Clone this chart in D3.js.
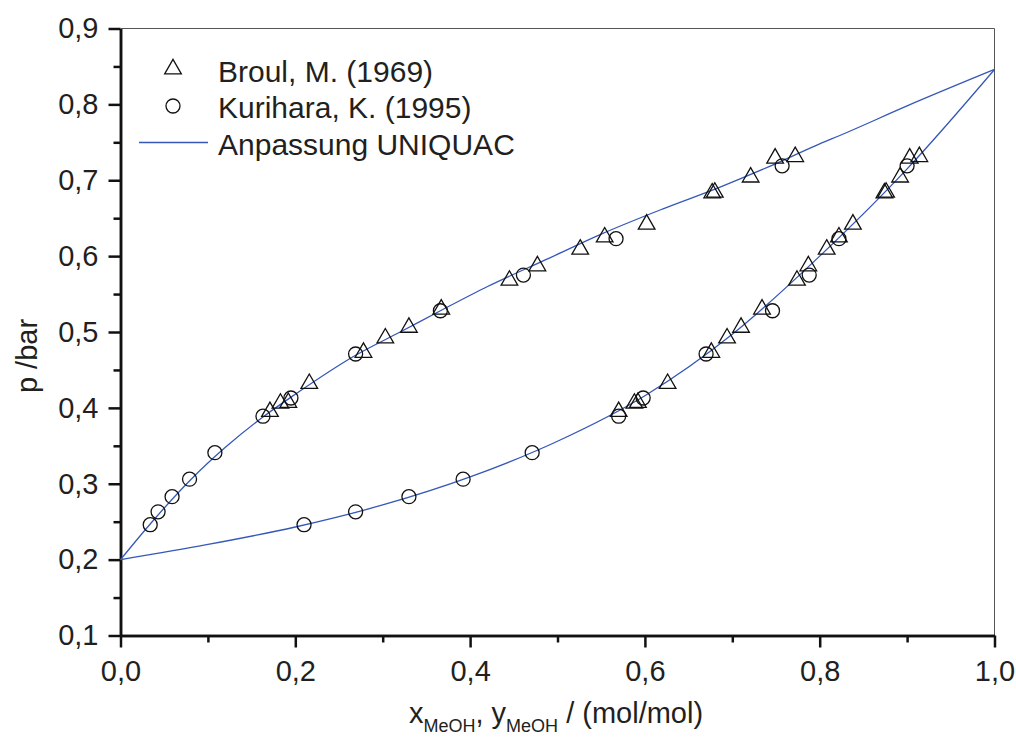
<!DOCTYPE html>
<html>
<head>
<meta charset="utf-8">
<script src="https://cdn.jsdelivr.net/npm/d3@7"></script>
<style>
  body { margin: 0; background: #fff; }
  text { font-family: "Liberation Sans", Arial, sans-serif; fill: #231f20; }
</style>
</head>
<body>
<div class="chart"></div>
<script>
// Broul, M. (1969) - same pressure for liquid (x) and vapour (y)
var broulP = [0.395, 0.406, 0.407, 0.432, 0.473, 0.492, 0.506, 0.530, 0.568, 0.587, 0.609, 0.625, 0.642, 0.683, 0.684, 0.704, 0.729, 0.731];
var broulX = [0.171, 0.183, 0.192, 0.216, 0.278, 0.303, 0.330, 0.367, 0.445, 0.477, 0.526, 0.554, 0.602, 0.677, 0.680, 0.721, 0.749, 0.772];
var broulY = [0.570, 0.588, 0.592, 0.626, 0.676, 0.694, 0.710, 0.734, 0.774, 0.787, 0.808, 0.822, 0.838, 0.874, 0.876, 0.892, 0.903, 0.914];

// Kurihara, K. (1995)
var kuriP = [0.246, 0.263, 0.283, 0.306, 0.341, 0.389, 0.413, 0.471, 0.528, 0.575, 0.623, 0.719];
var kuriX = [0.034, 0.043, 0.059, 0.079, 0.108, 0.163, 0.195, 0.269, 0.366, 0.461, 0.567, 0.757];
var kuriY = [0.210, 0.269, 0.330, 0.392, 0.471, 0.570, 0.598, 0.670, 0.746, 0.788, 0.822, 0.900];

// UNIQUAC fit, bubble line (x) and dew line (y)
var bubbleX = [0, 0.034, 0.08, 0.12, 0.163, 0.2, 0.27, 0.32, 0.366, 0.42, 0.49, 0.55, 0.62, 0.686, 0.75, 0.8, 0.823, 0.9, 1.0];
var bubbleP = [0.200, 0.247, 0.305, 0.348, 0.388, 0.418, 0.470, 0.500, 0.528, 0.560, 0.597, 0.629, 0.662, 0.691, 0.722, 0.748, 0.759, 0.798, 0.846];
var dewY = [0, 0.1, 0.2, 0.3, 0.4, 0.5, 0.6, 0.7, 0.8, 0.9, 1.0];
var dewP = [0.200, 0.220, 0.243, 0.272, 0.309, 0.356, 0.416, 0.497, 0.600, 0.715, 0.846];

var xTicks = [0, 0.2, 0.4, 0.6, 0.8, 1.0];
var xMinor = [0.1, 0.3, 0.5, 0.7, 0.9];
var yTicks = [0.1, 0.2, 0.3, 0.4, 0.5, 0.6, 0.7, 0.8, 0.9];
var yMinor = [0.15, 0.25, 0.35, 0.45, 0.55, 0.65, 0.75, 0.85];

var width = 1016, height = 744;
var plotLeft = 120.5, plotRight = 994.5, plotTop = 28.5, plotBottom = 635.5;
var lineColor = "#3558b8";
var fontSize = 29;

var svg = d3.select('.chart').append('svg').attr('width', width).attr('height', height);

var x = d3.scaleLinear().domain([0, 1]).range([plotLeft, plotRight]);
var y = d3.scaleLinear().domain([0.1, 0.9]).range([plotBottom, plotTop]);

var de = d3.formatLocale({decimal: ",", thousands: ".", grouping: [3], currency: ["", ""]});
var fmt = de.format(".1f");

// frame (top + right, thin)
svg.append("line").attr("x1", plotLeft).attr("x2", plotRight).attr("y1", plotTop).attr("y2", plotTop)
  .attr("stroke", "#555").attr("stroke-width", 1);
svg.append("line").attr("x1", plotRight).attr("x2", plotRight).attr("y1", plotTop).attr("y2", plotBottom)
  .attr("stroke", "#555").attr("stroke-width", 1);

// axes
svg.append("g").attr("transform", "translate(0," + plotBottom + ")")
  .call(d3.axisBottom(x).tickValues(xTicks).tickFormat(fmt).tickSize(12).tickSizeOuter(0).tickPadding(13));
svg.append("g").attr("transform", "translate(0," + plotBottom + ")")
  .call(d3.axisBottom(x).tickValues(xMinor).tickFormat("").tickSize(7).tickSizeOuter(0));
svg.append("g").attr("transform", "translate(" + plotLeft + ",0)")
  .call(d3.axisLeft(y).tickValues(yTicks).tickFormat(fmt).tickSize(12).tickSizeOuter(0).tickPadding(10));
svg.append("g").attr("transform", "translate(" + plotLeft + ",0)")
  .call(d3.axisLeft(y).tickValues(yMinor).tickFormat("").tickSize(7).tickSizeOuter(0));

svg.selectAll(".domain").attr("stroke", "#111").attr("stroke-width", 2.5);
svg.selectAll(".tick line").attr("stroke", "#111").attr("stroke-width", 2.5);
svg.selectAll(".tick text").attr("font-size", fontSize).attr("fill", "#231f20")
  .attr("font-family", "'Liberation Sans', Arial, sans-serif");

// fit lines
var bubbleData = bubbleX.map(function(d, i) { return {c: d, p: bubbleP[i]}; });
var dewData = dewY.map(function(d, i) { return {c: d, p: dewP[i]}; });
var line = d3.line().x(function(d) { return x(d.c); }).y(function(d) { return y(d.p); })
  .curve(d3.curveMonotoneX);

svg.append("path").datum(bubbleData).attr("d", line)
  .attr("fill", "none").attr("stroke", lineColor).attr("stroke-width", 1.3);
svg.append("path").datum(dewData).attr("d", line)
  .attr("fill", "none").attr("stroke", lineColor).attr("stroke-width", 1.3);

// markers
var tri = d3.symbol().type(d3.symbolTriangle).size(120);

function drawTriangles(cs, ps) {
  svg.append("g").selectAll("path")
    .data(cs.map(function(d, i) { return {c: d, p: ps[i]}; }))
    .enter().append("path")
      .attr("d", tri)
      .attr("transform", function(d) { return "translate(" + x(d.c) + "," + y(d.p) + ")"; })
      .attr("fill", "none").attr("stroke", "#111").attr("stroke-width", 1.3);
}

function drawCircles(cs, ps) {
  svg.append("g").selectAll("circle")
    .data(cs.map(function(d, i) { return {c: d, p: ps[i]}; }))
    .enter().append("circle")
      .attr("cx", function(d) { return x(d.c); })
      .attr("cy", function(d) { return y(d.p); })
      .attr("r", 7)
      .attr("fill", "none").attr("stroke", "#111").attr("stroke-width", 1.3);
}

drawTriangles(broulX, broulP);
drawTriangles(broulY, broulP);
drawCircles(kuriX, kuriP);
drawCircles(kuriY, kuriP);

// legend
var leg = svg.append("g");
leg.append("path").attr("d", tri).attr("transform", "translate(173,69)")
  .attr("fill", "none").attr("stroke", "#111").attr("stroke-width", 1.3);
leg.append("text").attr("x", 218).attr("y", 82).attr("font-size", 30).text("Broul, M. (1969)");
leg.append("circle").attr("cx", 173).attr("cy", 106).attr("r", 7)
  .attr("fill", "none").attr("stroke", "#111").attr("stroke-width", 1.3);
leg.append("text").attr("x", 218).attr("y", 118).attr("font-size", 30).text("Kurihara, K. (1995)");
leg.append("line").attr("x1", 139).attr("x2", 208).attr("y1", 142.5).attr("y2", 142.5)
  .attr("stroke", lineColor).attr("stroke-width", 1.3);
leg.append("text").attr("x", 218).attr("y", 155).attr("font-size", 30).text("Anpassung UNIQUAC");

// axis titles
svg.append("text").attr("transform", "translate(37,356) rotate(-90)")
  .attr("text-anchor", "middle").attr("font-size", fontSize).text("p /bar");

var xt = svg.append("text").attr("x", 556).attr("y", 723).attr("text-anchor", "middle").attr("font-size", fontSize);
xt.append("tspan").text("x");
xt.append("tspan").attr("font-size", 18).attr("dy", 9).text("MeOH");
xt.append("tspan").attr("dy", -9).text(", y");
xt.append("tspan").attr("font-size", 18).attr("dy", 9).text("MeOH");
xt.append("tspan").attr("dy", -9).text(" / (mol/mol)");
</script>
</body>
</html>
